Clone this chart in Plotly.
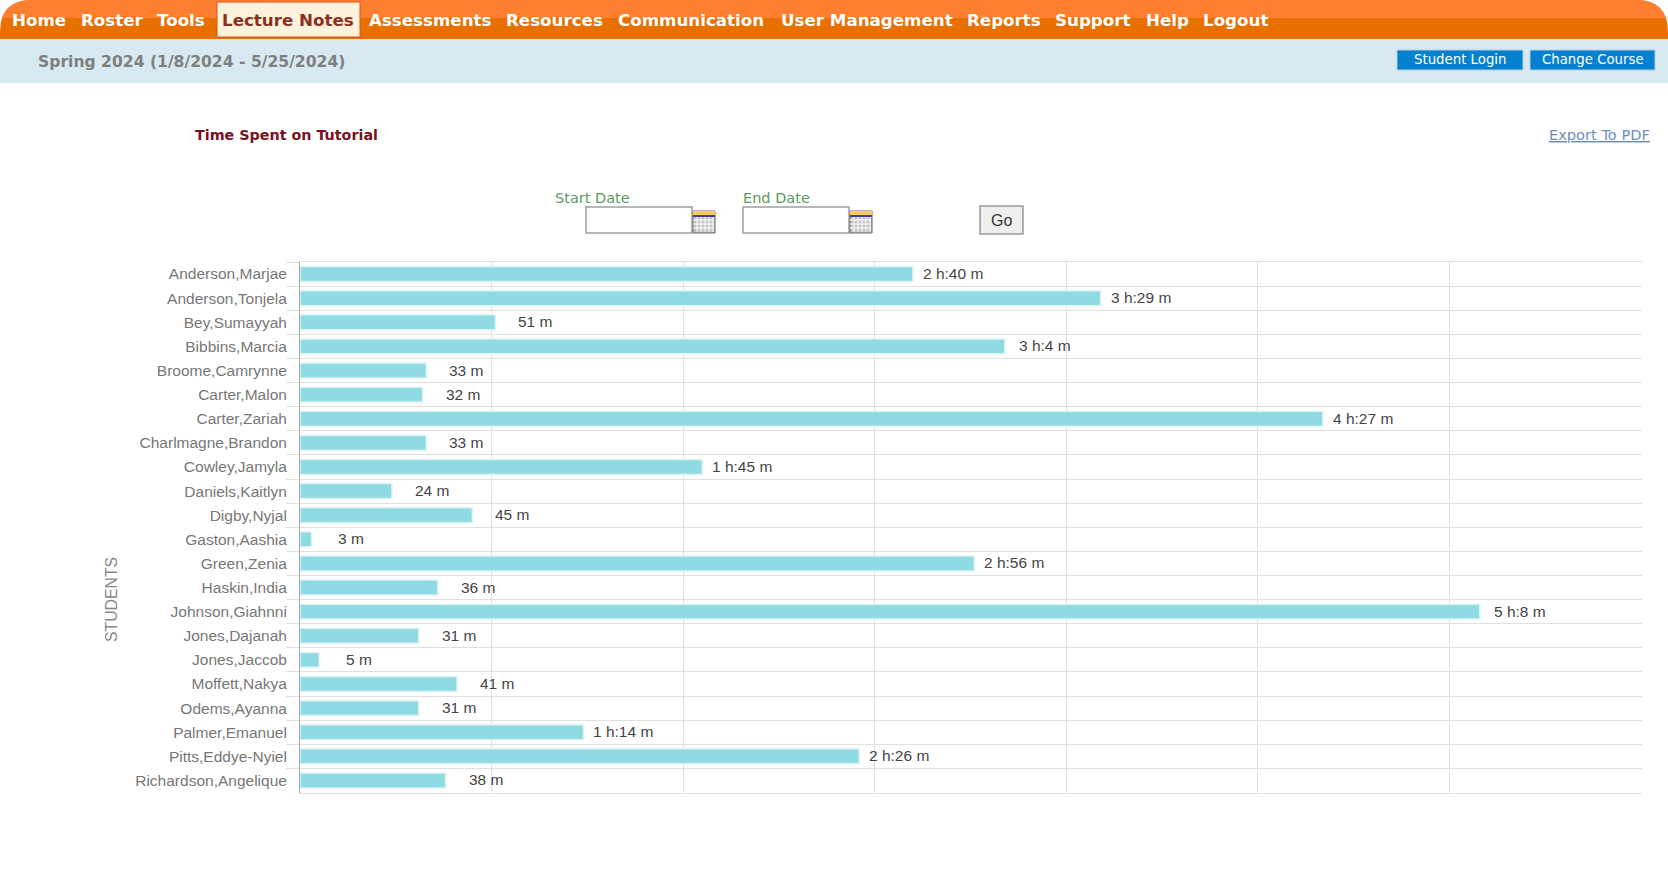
# -*- coding: utf-8 -*-
import plotly.express as px

W = 1668
H = 888

students = [
    "Anderson,Marjae", "Anderson,Tonjela", "Bey,Sumayyah", "Bibbins,Marcia",
    "Broome,Camrynne", "Carter,Malon", "Carter,Zariah", "Charlmagne,Brandon",
    "Cowley,Jamyla", "Daniels,Kaitlyn", "Digby,Nyjal", "Gaston,Aashia",
    "Green,Zenia", "Haskin,India", "Johnson,Giahnni", "Jones,Dajanah",
    "Jones,Jaccob", "Moffett,Nakya", "Odems,Ayanna", "Palmer,Emanuel",
    "Pitts,Eddye-Nyiel", "Richardson,Angelique",
]
minutes = [160, 209, 51, 184, 33, 32, 267, 33, 105, 24, 45, 3, 176, 36, 308, 31, 5, 41, 31, 74, 146, 38]
time_labels = [
    "2 h:40 m", "3 h:29 m", "51 m", "3 h:4 m", "33 m", "32 m", "4 h:27 m", "33 m",
    "1 h:45 m", "24 m", "45 m", "3 m", "2 h:56 m", "36 m", "5 h:8 m", "31 m",
    "5 m", "41 m", "31 m", "1 h:14 m", "2 h:26 m", "38 m",
]

# Menu on top of the page
menu_items = ["Home", "Roster", "Tools", "Lecture Notes", "Assessments", "Resources",
              "Communication", "User Management", "Reports", "Support", "Help", "Logout"]
menu_left = [12, 81, 157, 222, 369, 506, 618, 781, 967, 1055, 1146, 1203]

# Lag et liggende søylediagram
fig = px.bar(x=minutes, y=students, orientation="h")

# Designjusteringer
fig.update_traces(
    marker_color="#8FDAE3",
    marker_line=dict(color="#DDF4F6", width=1.5),
    width=0.62,
    hovertemplate="%{y}<br>%{x} m",
)
fig.update_layout(
    width=W,
    height=H,
    autosize=False,
    showlegend=False,
    plot_bgcolor="white",
    paper_bgcolor="white",
    margin=dict(t=0, b=0, l=0, r=0),
    font=dict(family="Liberation Sans", size=15, color="#777777"),
)
fig.update_xaxes(
    domain=[300 / W, 1641.5 / W],
    range=[0, 350.2],
    dtick=50,
    showticklabels=False,
    showgrid=True,
    gridcolor="#E0E0E0",
    zeroline=False,
    showline=True,
    mirror=True,
    linecolor="#E0E0E0",
    title=None,
)
fig.update_yaxes(
    domain=[1 - 792.5 / H, 1 - 262 / H],
    range=[21.5, -0.5],
    tickson="boundaries",
    ticks="outside",
    ticklen=13,
    tickcolor="#E0E0E0",
    ticklabelstandoff=9,
    showgrid=True,
    gridcolor="#E0E0E0",
    showline=True,
    linecolor="#A8A8A8",
    tickfont=dict(size=15.5, color="#777777"),
    title=None,
)

# Tidene ved enden av hver søyle
for student, value, label in zip(students, minutes, time_labels):
    fig.add_annotation(x=value, y=student, text=label, showarrow=False, xshift=40, yshift=0.5,
                       font=dict(size=15.5, color="#444444"))

fig.add_annotation(x=111 / W, y=1 - 600 / H, xref="paper", yref="paper", text="STUDENTS", textangle=-90,
                   xanchor="center", showarrow=False, font=dict(size=15.8, color="#888888"))

# Orange menu bar with rounded corners
dark_path = "M 0,%f L 0,%f Q 0,1 %f,1 L %f,1 Q 1,1 1,%f L 1,%f Z" % (
    1 - 39 / H, 1 - 32 / H, 32 / W, 1 - 32 / W, 1 - 32 / H, 1 - 39 / H)
light_path = "M %f,%f Q %f,1 %f,1 L %f,1 Q %f,1 %f,%f Z" % (
    2.2 / W, 1 - 18 / H, 8.5 / W, 32 / W, 1 - 32 / W, 1 - 8.5 / W, 1 - 2.2 / W, 1 - 18 / H)
fig.add_shape(type="path", path=dark_path, xref="paper", yref="paper", fillcolor="#E87000", line_width=0)
fig.add_shape(type="path", path=light_path, xref="paper", yref="paper", fillcolor="#FF7F30", line_width=0)
fig.add_shape(type="rect", x0=0, x1=1, y0=1 - 83 / H, y1=1 - 39 / H, xref="paper", yref="paper",
              fillcolor="#D7E9F1", line_width=0)
fig.add_shape(type="rect", x0=217 / W, x1=360 / W, y0=1 - 37 / H, y1=1 - 2 / H, xref="paper", yref="paper",
              fillcolor="#FFF2DC", line=dict(color="#E05020", width=1))

for item, left in zip(menu_items, menu_left):
    color = "#8A3020" if item == "Lecture Notes" else "white"
    fig.add_annotation(x=left / W, y=1 - 20 / H, xref="paper", yref="paper", text="<b>%s</b>" % item,
                       xanchor="left", showarrow=False, xshift=-2,
                       font=dict(family="DejaVu Sans", size=16.7, color=color))

fig.add_annotation(x=38 / W, y=1 - 62 / H, xref="paper", yref="paper", text="<b>Spring 2024 (1/8/2024 - 5/25/2024)</b>",
                   xanchor="left", showarrow=False, xshift=-2,
                   font=dict(family="DejaVu Sans", size=15.6, color="#808080"))

# Knapper
for text, x0, x1 in [("Student Login", 1397, 1523), ("Change Course", 1530, 1655)]:
    fig.add_shape(type="rect", x0=x0 / W, x1=x1 / W, y0=1 - 70 / H, y1=1 - 50 / H, xref="paper", yref="paper",
                  fillcolor="#0680D0", line=dict(color="#B5CFE0", width=1))
    fig.add_annotation(x=(x0 + x1) / 2 / W, y=1 - 60 / H, xref="paper", yref="paper", text=text, showarrow=False,
                       xanchor="center", font=dict(family="DejaVu Sans", size=13.3, color="white"))

fig.add_annotation(x=195 / W, y=1 - 135 / H, xref="paper", yref="paper", text="<b>Time Spent on Tutorial</b>",
                   xanchor="left", showarrow=False, xshift=-2,
                   font=dict(family="DejaVu Sans", size=14.3, color="#7A1020"))
fig.add_annotation(x=1650 / W, y=1 - 135 / H, xref="paper", yref="paper", text="<u>Export To PDF</u>",
                   xanchor="right", showarrow=False, xshift=2,
                   font=dict(family="DejaVu Sans", size=14.6, color="#6D8FC0"))

# Datofelt
for text, label_left, box_left in [("Start Date", 555, 586), ("End Date", 743, 743)]:
    fig.add_annotation(x=label_left / W, y=1 - 198 / H, xref="paper", yref="paper", text=text,
                       xanchor="left", showarrow=False, xshift=-2,
                       font=dict(family="DejaVu Sans", size=14.5, color="#5C9A5C"))
    fig.add_shape(type="rect", x0=box_left / W, x1=(box_left + 106) / W, y0=1 - 233 / H, y1=1 - 207 / H,
                  xref="paper", yref="paper", fillcolor="white", line=dict(color="#A0A0A0", width=1.5))
    icon_left = box_left + 107
    fig.add_shape(type="rect", x0=icon_left / W, x1=(icon_left + 22) / W, y0=1 - 233 / H, y1=1 - 211 / H,
                  xref="paper", yref="paper", fillcolor="#C4C4C4", line=dict(color="#666666", width=1))
    fig.add_shape(type="rect", x0=icon_left / W, x1=(icon_left + 22) / W, y0=1 - 215 / H, y1=1 - 211 / H,
                  xref="paper", yref="paper", fillcolor="#FFC860", line_width=0)
    fig.add_shape(type="rect", x0=icon_left / W, x1=(icon_left + 22) / W, y0=1 - 217 / H, y1=1 - 215 / H,
                  xref="paper", yref="paper", fillcolor="#4040B0", line_width=0)
    for step in [4, 8, 12, 16, 20]:  # rutenett i kalenderen
        fig.add_shape(type="line", x0=(icon_left + step) / W, x1=(icon_left + step) / W, y0=1 - 232 / H, y1=1 - 217 / H,
                      xref="paper", yref="paper", line=dict(color="white", width=1))
    for step in [220, 224, 228]:
        fig.add_shape(type="line", x0=icon_left / W, x1=(icon_left + 21) / W, y0=1 - step / H, y1=1 - step / H,
                      xref="paper", yref="paper", line=dict(color="white", width=1))

fig.add_shape(type="rect", x0=980 / W, x1=1023 / W, y0=1 - 234 / H, y1=1 - 206 / H, xref="paper", yref="paper",
              fillcolor="#EFEFEF", line=dict(color="#999999", width=1.5))
fig.add_annotation(x=1001.5 / W, y=1 - 220 / H, xref="paper", yref="paper", text="Go", showarrow=False,
                   xanchor="center", font=dict(family="Liberation Sans", size=16, color="#333333"))

fig.update_annotations(yanchor="middle")

fig.write_html("out.html", config={"displayModeBar": False}, post_script="document.body.style.margin='0';")
